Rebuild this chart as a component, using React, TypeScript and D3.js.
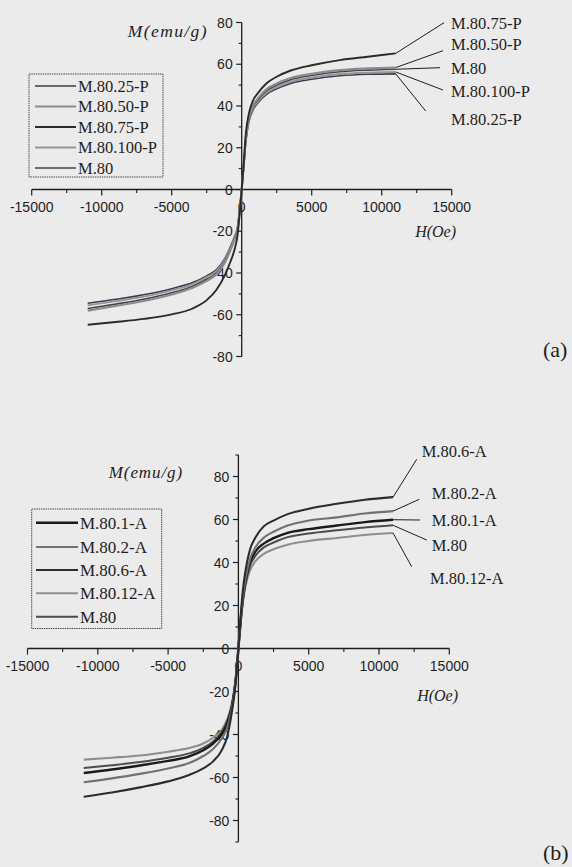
import React from "react";
import * as d3 from "d3";

// ---------- DATA ----------
const H_NEG = [-11000, -9000, -7000, -5000, -3500, -2500, -1800, -1200, -800, -500, -300, -150];
const H_POS = [150, 300, 500, 800, 1200, 1800, 2500, 3500, 5000, 7000, 9000, 11000];
const H_ALL = [...H_NEG, 0, ...H_POS];

const X_TICKS = [-15000, -10000, -5000, 0, 5000, 10000, 15000];

// Panel (a): PEG-coated
const A_NAMES = ["M.80.25-P", "M.80.50-P", "M.80.75-P", "M.80.100-P", "M.80"];
const A_25P = [-54.5, -52.6, -50.4, -47.5, -44.6, -41.4, -38.4, -33, -27.3, -22.3, -18.2, -9.8, 0,
  11.5, 23.2, 32, 37.9, 41.8, 45.7, 48.2, 50.8, 52.8, 54.5, 55.2, 55.4];
const A_50P = [-58, -55.8, -53.4, -50.3, -47.1, -43.8, -40.6, -35, -29, -23.8, -19.5, -10.5, 0,
  12.5, 24.8, 33.8, 40, 44, 48.2, 50.8, 53.4, 55.4, 57.2, 58, 58.4];
const A_75P = [-64.8, -63.5, -62, -59.8, -57, -53, -48, -41, -34.5, -28.5, -22, -12, 0,
  13, 27, 36, 42.5, 46.5, 51, 54, 57, 59.5, 62, 63.6, 65.2];
const A_100P = [-55.5, -53.5, -51.3, -48.3, -45.3, -42, -39, -33.6, -27.8, -22.8, -18.6, -10, 0,
  11.8, 23.7, 32.6, 38.6, 42.5, 46.5, 49, 51.6, 53.6, 55.3, 56, 56.3];
const A_M80 = [-57, -54.9, -52.6, -49.5, -46.3, -43, -40, -34.5, -28.5, -23.3, -19, -10.3, 0,
  12.2, 24.3, 33.3, 39.4, 43.4, 47.5, 50, 52.6, 54.6, 56.4, 57.2, 57.6];
const A_Y_TICKS = [-80, -60, -40, -20, 0, 20, 40, 60, 80];

// Panel (b): CA-coated
const B_NAMES = ["M.80.1-A", "M.80.2-A", "M.80.6-A", "M.80.12-A", "M.80"];
const B_1A = [-57.9, -56.3, -54.4, -52.3, -50.2, -47.3, -44.2, -40, -35, -28, -20.5, -12, 0,
  12, 22, 31, 39.5, 45, 48.8, 51.3, 53.8, 55.5, 57.2, 58.8, 59.9];
const B_2A = [-62.2, -60.4, -58.3, -55.8, -53.3, -50, -46.8, -42, -37, -29, -21, -12, 0,
  13, 23, 32, 41, 47, 51.5, 54.3, 57.2, 59.5, 61, 62.8, 63.9];
const B_6A = [-69, -67, -64.6, -61.8, -58.8, -55.8, -52.5, -47.5, -41, -31, -22, -13, 0,
  14, 26, 36, 45.5, 51.5, 56.8, 59.5, 62.5, 65, 67.3, 69.2, 70.4];
const B_12A = [-51.7, -50.8, -49.8, -48, -46.3, -44.2, -41.5, -38, -33, -26.5, -19.5, -11, 0,
  11, 20.5, 29, 36, 40.5, 44, 46.2, 48.3, 50, 51.4, 52.8, 53.7];
const B_M80 = [-55.6, -54.3, -52.8, -50.8, -48.8, -46.2, -43.2, -39, -34, -27.5, -20, -11.5, 0,
  12, 21.5, 30, 38, 43, 47, 49.3, 51.8, 53.5, 55, 56.3, 57.3];
const B_Y_TICKS = [-80, -60, -40, -20, 0, 20, 40, 60, 80];

// ---------- STYLE / LAYOUT ----------
const BG = "#ebebeb";
const INK = "#1e1e1e";
const SERIF = "'Liberation Serif', 'Times New Roman', serif";
const SANS = "'Liberation Sans', Arial, sans-serif";

type Series = { name: string; values: number[]; color: string; width: number };

type PanelCfg = {
  xRange: [number, number];
  yDomain: [number, number];
  yRange: [number, number];
  yTicks: number[];
  series: Series[];
  drawOrder: string[];
  legend: { x0: number; x1: number; y0: number; y1: number; rows: number[]; lx0: number; lx1: number; tx: number; fs: number };
  yTitle: { x: number; y: number; fs: number; ls: number };
  xTitle: { x: number; y: number; fs: number };
  annot: { name: string; lx: number; ly: number; tx: number; ty: number }[];
  tag: { text: string; x: number; y: number };
};

const seriesA: Series[] = [
  { name: A_NAMES[0], values: A_25P, color: "#3b3b4a", width: 1.6 },
  { name: A_NAMES[1], values: A_50P, color: "#8c8c8c", width: 2.2 },
  { name: A_NAMES[2], values: A_75P, color: "#2a2a2a", width: 1.9 },
  { name: A_NAMES[3], values: A_100P, color: "#9d8f9b", width: 1.9 },
  { name: A_NAMES[4], values: A_M80, color: "#454545", width: 1.6 },
];

const seriesB: Series[] = [
  { name: B_NAMES[0], values: B_1A, color: "#1a1a1a", width: 2.4 },
  { name: B_NAMES[1], values: B_2A, color: "#727272", width: 2.1 },
  { name: B_NAMES[2], values: B_6A, color: "#2c2c2c", width: 2.1 },
  { name: B_NAMES[3], values: B_12A, color: "#8e8e8e", width: 2.1 },
  { name: B_NAMES[4], values: B_M80, color: "#4c4c4c", width: 2.0 },
];

const panelA: PanelCfg = {
  xRange: [31.7, 451.7],
  yDomain: [-80, 80],
  yRange: [356.5, 22.5],
  yTicks: A_Y_TICKS,
  series: seriesA,
  drawOrder: ["M.80.25-P", "M.80.100-P", "M.80", "M.80.50-P", "M.80.75-P"],
  legend: { x0: 29, x1: 163, y0: 74, y1: 177, rows: [86, 106.5, 127, 147.5, 168], lx0: 35, lx1: 76, tx: 78, fs: 16.5 },
  yTitle: { x: 208, y: 37, fs: 17.5, ls: 1.4 },
  xTitle: { x: 456, y: 237, fs: 16 },
  annot: [
    { name: "M.80.75-P", lx: 444, ly: 22.7, tx: 451, ty: 23 },
    { name: "M.80.50-P", lx: 443, ly: 50.7, tx: 451, ty: 44 },
    { name: "M.80", lx: 440, ly: 67.7, tx: 451, ty: 68 },
    { name: "M.80.100-P", lx: 443, ly: 90, tx: 451, ty: 91 },
    { name: "M.80.25-P", lx: 425.7, ly: 111, tx: 451, ty: 119 },
  ],
  tag: { text: "(a)", x: 543, y: 357 },
};

const panelB: PanelCfg = {
  xRange: [27.5, 449.3],
  yDomain: [-90, 90],
  yRange: [842, 455],
  yTicks: B_Y_TICKS,
  series: seriesB,
  drawOrder: ["M.80.12-A", "M.80", "M.80.1-A", "M.80.2-A", "M.80.6-A"],
  legend: { x0: 31.7, x1: 161.7, y0: 509, y1: 628.5, rows: [522.7, 547, 570, 593.3, 616.7], lx0: 36, lx1: 78, tx: 80, fs: 17 },
  yTitle: { x: 183, y: 477.5, fs: 17, ls: 0.9 },
  xTitle: { x: 458, y: 701, fs: 16 },
  annot: [
    { name: "M.80.6-A", lx: 416.7, ly: 459.3, tx: 421.7, ty: 451 },
    { name: "M.80.2-A", lx: 419.3, ly: 499.3, tx: 431.7, ty: 493 },
    { name: "M.80.1-A", lx: 420, ly: 520, tx: 431.7, ty: 520 },
    { name: "M.80", lx: 426.7, ly: 540, tx: 431.7, ty: 545.5 },
    { name: "M.80.12-A", lx: 411.7, ly: 566.7, tx: 430, ty: 578 },
  ],
  tag: { text: "(b)", x: 543, y: 860 },
};

function Panel({ cfg }: { cfg: PanelCfg }) {
  const x = d3.scaleLinear().domain([-15000, 15000]).range(cfg.xRange);
  const y = d3.scaleLinear().domain(cfg.yDomain).range(cfg.yRange);
  const x0 = x(0);
  const y0 = y(0);
  const line = d3
    .line<number>()
    .x((_, i) => x(H_ALL[i]))
    .y((d) => y(d))
    .curve(d3.curveMonotoneX);

  const xMinor = d3.range(-15000, 15001, 2500).filter((v) => v % 5000 !== 0);
  const yMinor = d3.range(cfg.yDomain[0], cfg.yDomain[1] + 1, 10).filter((v) => v % 20 !== 0);
  const byName = (n: string) => cfg.series.find((s) => s.name === n)!;

  return (
    <g>
      {/* x axis */}
      <line x1={x(-15000)} x2={x(15000)} y1={y0} y2={y0} stroke={INK} strokeWidth={1.3} />
      {X_TICKS.map((t) => (
        <g key={"xt" + t}>
          <line x1={x(t)} x2={x(t)} y1={y0} y2={y0 + 6} stroke={INK} strokeWidth={1.2} />
          <text x={x(t)} y={y0 + 22.5} fontFamily={SANS} fontSize={14} fill={INK} textAnchor="middle">
            {t}
          </text>
        </g>
      ))}
      {xMinor.map((t) => (
        <line key={"xm" + t} x1={x(t)} x2={x(t)} y1={y0} y2={y0 + 3.5} stroke={INK} strokeWidth={1.1} />
      ))}
      {/* y axis */}
      <line x1={x0} x2={x0} y1={y(cfg.yDomain[0])} y2={y(cfg.yDomain[1])} stroke={INK} strokeWidth={1.3} />
      {cfg.yTicks.map((t) => (
        <g key={"yt" + t}>
          <line x1={x0 - 5.5} x2={x0} y1={y(t)} y2={y(t)} stroke={INK} strokeWidth={1.2} />
          <text x={x0 - 9} y={y(t)} dy="0.36em" fontFamily={SANS} fontSize={14} fill={INK} textAnchor="end">
            {t}
          </text>
        </g>
      ))}
      {yMinor.map((t) => (
        <line key={"ym" + t} x1={x0 - 3} x2={x0} y1={y(t)} y2={y(t)} stroke={INK} strokeWidth={1.1} />
      ))}
      {/* titles */}
      <text
        x={cfg.yTitle.x}
        y={cfg.yTitle.y}
        fontFamily={SERIF}
        fontStyle="italic"
        fontSize={cfg.yTitle.fs}
        letterSpacing={cfg.yTitle.ls}
        fill={INK}
        textAnchor="end"
      >
        M(emu/g)
      </text>
      <text x={cfg.xTitle.x} y={cfg.xTitle.y} fontFamily={SERIF} fontStyle="italic" fontSize={cfg.xTitle.fs} fill={INK} textAnchor="end">
        H(Oe)
      </text>
      {/* curves */}
      {cfg.drawOrder.map((n) => {
        const s = byName(n);
        return (
          <path key={"c" + n} d={line(s.values) || ""} fill="none" stroke={s.color} strokeWidth={s.width} strokeLinejoin="round" />
        );
      })}
      {/* annotations */}
      {cfg.annot.map((a) => {
        const s = byName(a.name);
        const last = s.values[s.values.length - 1];
        return (
          <g key={"a" + a.name}>
            <line x1={x(H_ALL[H_ALL.length - 1])} y1={y(last)} x2={a.lx} y2={a.ly} stroke={INK} strokeWidth={1} />
            <text x={a.tx} y={a.ty} dy="0.35em" fontFamily={SERIF} fontSize={16.5} fill={INK}>
              {a.name}
            </text>
          </g>
        );
      })}
      {/* legend */}
      <rect
        x={cfg.legend.x0}
        y={cfg.legend.y0}
        width={cfg.legend.x1 - cfg.legend.x0}
        height={cfg.legend.y1 - cfg.legend.y0}
        fill="none"
        stroke="#4a4a4a"
        strokeWidth={1}
        strokeDasharray="1.5 0.8"
      />
      {cfg.series.map((s, i) => (
        <g key={"l" + s.name}>
          <line
            x1={cfg.legend.lx0}
            x2={cfg.legend.lx1}
            y1={cfg.legend.rows[i]}
            y2={cfg.legend.rows[i]}
            stroke={s.color}
            strokeWidth={s.width}
          />
          <text x={cfg.legend.tx} y={cfg.legend.rows[i]} dy="0.35em" fontFamily={SERIF} fontSize={cfg.legend.fs} fill={INK}>
            {s.name}
          </text>
        </g>
      ))}
      <text x={cfg.tag.x} y={cfg.tag.y} fontFamily={SERIF} fontSize={22} fill={INK}>
        {cfg.tag.text}
      </text>
    </g>
  );
}

export default function App() {
  return (
    <svg
      width={572}
      height={867}
      viewBox="0 0 572 867"
      style={{ position: "absolute", left: 0, top: 0, display: "block" }}
    >
      <rect x={0} y={0} width={572} height={867} fill={BG} />
      <Panel cfg={panelA} />
      <Panel cfg={panelB} />
    </svg>
  );
}
